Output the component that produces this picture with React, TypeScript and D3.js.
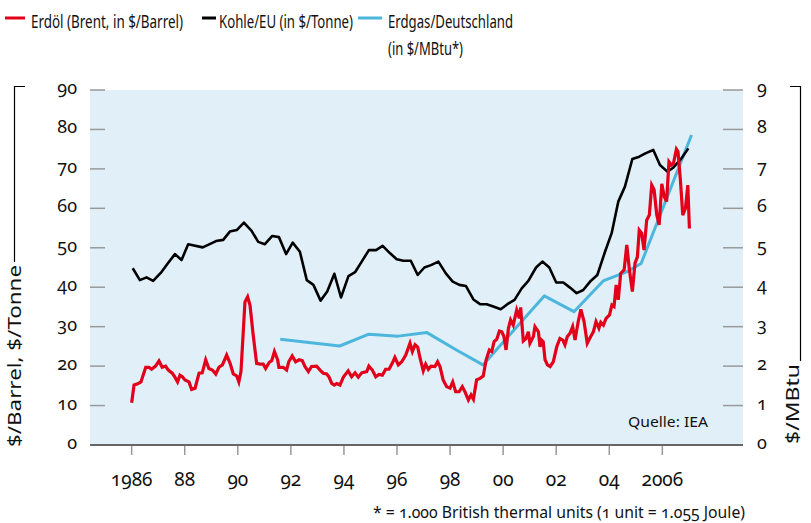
import React, { useEffect, useRef } from 'react';
import * as d3 from 'd3';

// Erdöl (Brent), $/Barrel: [Jahr, Wert]
const oilSeries: [number, number][] = [
  [1986.0, 10.7], [1986.09, 15.2], [1986.23, 15.5], [1986.35, 16.0], [1986.53, 19.7], [1986.65, 19.7],
  [1986.75, 19.2], [1986.9, 20.0], [1987.03, 21.3], [1987.15, 19.7], [1987.28, 20.0], [1987.38, 19.0],
  [1987.53, 18.2], [1987.63, 17.2], [1987.73, 16.0], [1987.82, 17.7], [1987.91, 17.3], [1988.01, 16.5],
  [1988.16, 16.0], [1988.26, 14.1], [1988.39, 14.4], [1988.54, 18.2], [1988.66, 18.3], [1988.79, 21.6],
  [1988.91, 19.4], [1989.04, 19.0], [1989.17, 18.0], [1989.29, 19.7], [1989.42, 20.3], [1989.58, 22.8],
  [1989.71, 20.7], [1989.83, 18.0], [1989.96, 17.5], [1990.04, 16.0], [1990.12, 18.6], [1990.27, 36.3],
  [1990.37, 37.6], [1990.46, 35.5], [1990.58, 27.9], [1990.71, 20.7], [1990.84, 20.5], [1990.96, 20.5],
  [1991.05, 19.4], [1991.18, 20.9], [1991.28, 21.4], [1991.38, 23.7], [1991.5, 21.6], [1991.55, 19.7],
  [1991.71, 19.7], [1991.84, 19.0], [1991.92, 21.1], [1992.05, 22.6], [1992.18, 21.1], [1992.31, 21.6],
  [1992.43, 21.4], [1992.53, 19.9], [1992.66, 18.6], [1992.78, 19.9], [1992.97, 20.0], [1993.1, 19.0],
  [1993.22, 18.2], [1993.35, 18.0], [1993.44, 17.2], [1993.54, 15.6], [1993.64, 15.2], [1993.73, 15.6],
  [1993.85, 15.2], [1993.98, 17.2], [1994.16, 18.8], [1994.29, 17.3], [1994.42, 18.3], [1994.54, 17.2],
  [1994.67, 18.3], [1994.86, 18.6], [1994.94, 20.0], [1995.07, 19.0], [1995.2, 17.3], [1995.32, 17.9],
  [1995.45, 17.7], [1995.57, 19.2], [1995.7, 19.2], [1995.82, 20.7], [1995.92, 22.2], [1996.05, 20.3],
  [1996.18, 21.1], [1996.33, 22.8], [1996.49, 25.8], [1996.58, 23.7], [1996.68, 25.4], [1996.78, 24.8],
  [1996.87, 22.0], [1996.99, 18.8], [1997.08, 20.5], [1997.18, 19.2], [1997.28, 20.0], [1997.43, 19.9],
  [1997.53, 21.1], [1997.62, 19.9], [1997.74, 16.5], [1997.87, 14.8], [1998.0, 14.4], [1998.1, 16.0],
  [1998.21, 13.5], [1998.34, 13.5], [1998.46, 14.8], [1998.56, 13.5], [1998.69, 11.4], [1998.79, 12.7],
  [1998.88, 11.6], [1999.0, 16.5], [1999.13, 16.9], [1999.25, 17.5], [1999.36, 21.6], [1999.48, 24.1],
  [1999.57, 23.7], [1999.66, 26.2], [1999.76, 26.8], [1999.86, 28.9], [1999.95, 28.7], [2000.03, 27.5],
  [2000.11, 24.1], [2000.2, 29.6], [2000.28, 31.7], [2000.38, 30.4], [2000.51, 34.2], [2000.61, 32.1],
  [2000.66, 34.9], [2000.76, 26.4], [2000.86, 27.0], [2000.95, 28.7], [2001.01, 25.8], [2001.14, 27.5],
  [2001.2, 30.0], [2001.33, 28.7], [2001.39, 24.9], [2001.45, 26.6], [2001.51, 26.2], [2001.58, 21.6],
  [2001.67, 20.3], [2001.77, 19.9], [2001.89, 21.1], [2002.02, 24.9], [2002.14, 27.0], [2002.25, 26.6],
  [2002.33, 25.4], [2002.42, 27.5], [2002.52, 28.3], [2002.62, 30.0], [2002.71, 26.6], [2002.83, 31.3],
  [2002.93, 34.4], [2003.05, 31.3], [2003.17, 25.8], [2003.3, 27.5], [2003.4, 28.7], [2003.5, 31.3],
  [2003.61, 29.6], [2003.68, 31.1], [2003.78, 30.4], [2003.88, 32.1], [2004.01, 33.0], [2004.1, 35.5],
  [2004.18, 35.1], [2004.26, 40.6], [2004.34, 36.8], [2004.43, 43.5], [2004.56, 44.4], [2004.66, 50.7],
  [2004.76, 44.4], [2004.87, 38.9], [2004.97, 46.1], [2005.06, 47.7], [2005.13, 54.5], [2005.22, 53.7],
  [2005.31, 49.4], [2005.41, 57.0], [2005.51, 58.3], [2005.6, 65.9], [2005.69, 64.7], [2005.79, 58.3],
  [2005.88, 55.8], [2005.98, 66.2], [2006.07, 63.0], [2006.16, 61.7], [2006.25, 71.8], [2006.34, 71.0],
  [2006.42, 71.4], [2006.53, 75.0], [2006.59, 74.4], [2006.68, 67.2], [2006.77, 58.3], [2006.87, 60.0],
  [2006.96, 65.9], [2007.02, 54.9],
];

// Kohle/EU, $/Tonne
const coalSeries: [number, number][] = [
  [1986.04, 44.8], [1986.31, 41.8], [1986.56, 42.5], [1986.81, 41.6], [1987.13, 43.9], [1987.38, 46.2],
  [1987.63, 48.4], [1987.88, 46.9], [1988.13, 50.9], [1988.68, 50.1], [1989.18, 51.7], [1989.45, 52.0],
  [1989.7, 54.1], [1989.96, 54.5], [1990.23, 56.4], [1990.52, 54.3], [1990.77, 51.5], [1991.02, 50.9],
  [1991.3, 53.0], [1991.55, 52.7], [1991.82, 48.4], [1992.07, 51.3], [1992.34, 49.0], [1992.6, 41.8],
  [1992.85, 40.6], [1993.12, 36.6], [1993.37, 38.9], [1993.64, 43.4], [1993.89, 37.4], [1994.17, 42.8],
  [1994.42, 43.8], [1994.67, 46.5], [1994.94, 49.4], [1995.21, 49.4], [1995.46, 50.5], [1995.74, 48.6],
  [1995.99, 47.1], [1996.24, 46.7], [1996.52, 46.7], [1996.78, 43.1], [1997.03, 45.0], [1997.28, 45.6],
  [1997.56, 46.5], [1997.84, 43.5], [1998.1, 41.4], [1998.35, 40.6], [1998.6, 40.3], [1998.88, 36.9],
  [1999.13, 35.7], [1999.38, 35.7], [1999.63, 35.1], [1999.91, 34.4], [2000.16, 35.7], [2000.43, 36.8],
  [2000.7, 39.7], [2000.95, 41.6], [2001.24, 45.0], [2001.48, 46.5], [2001.74, 45.0], [2002.0, 41.2],
  [2002.27, 41.2], [2002.52, 39.9], [2002.77, 38.5], [2003.02, 39.3], [2003.3, 41.6], [2003.55, 43.1],
  [2003.84, 49.0], [2004.09, 53.7], [2004.34, 61.7], [2004.59, 65.5], [2004.87, 72.5], [2005.13, 73.1],
  [2005.38, 74.0], [2005.66, 74.8], [2005.91, 71.0], [2006.19, 69.3], [2006.41, 70.3], [2006.69, 72.4],
  [2006.98, 75.2],
];

// Erdgas/Deutschland, $/MBtu (rechte Achse)
const gasSeries: [number, number][] = [
  [1991.6, 2.68], [1993.84, 2.51], [1994.94, 2.81], [1996.04, 2.76], [1997.13, 2.85], [1998.24, 2.41],
  [1999.24, 2.03], [2001.55, 3.78], [2002.67, 3.38], [2003.77, 4.16], [2004.65, 4.39], [2005.2, 4.6],
  [2007.1, 7.86],
];

const xTickYears = [1986, 1988, 1990, 1992, 1994, 1996, 1998, 2000, 2002, 2004, 2006];
const xTickLabels = ['1986', '88', '90', '92', '94', '96', '98', '00', '02', '04', '2006'];
const leftTicks = [0, 10, 20, 30, 40, 50, 60, 70, 80, 90];
const rightTicks = [0, 1, 2, 3, 4, 5, 6, 7, 8, 9];

const legendItems = [
  { label: ['Erdöl (Brent, in $/Barrel)'], widths: [152], color: '#e2001a', x1: 5, x2: 25, tx: 31 },
  { label: ['Kohle/EU (in $/Tonne)'], widths: [134], color: '#000000', x1: 202, x2: 216, tx: 219 },
  { label: ['Erdgas/Deutschland', '(in $/MBtu*)'], widths: [125, 75], color: '#4db6dd', x1: 358, x2: 382, tx: 388 },
];

const FONT = '"Noto Sans", "Open Sans", sans-serif';

const W = 811;
const H = 523;
const margin = { top: 90, right: 68, bottom: 78, left: 90 };

const EnergyPriceChart = () => {
  const ref = useRef<SVGSVGElement>(null);

  useEffect(() => {
    if (!ref.current) return;
    const svg = d3.select(ref.current);
    svg.selectAll('*').remove();

    const x = d3.scaleLinear().domain([1984.43, 2009.04]).range([margin.left, W - margin.right]);
    const yL = d3.scaleLinear().domain([0, 90]).range([H - margin.bottom, margin.top]);
    const yR = d3.scaleLinear().domain([0, 9]).range([H - margin.bottom, margin.top]);

    const plotBottom = H - margin.bottom;
    const plotRight = W - margin.right;

    const txt = (sel: any, size: number) =>
      sel.attr('font-family', FONT).attr('font-size', size)
        .style('font-variant-numeric', 'oldstyle-nums').attr('fill', '#111');

    // Hintergrund
    svg.append('rect')
      .attr('x', margin.left).attr('y', margin.top)
      .attr('width', plotRight - margin.left).attr('height', plotBottom - margin.top)
      .attr('fill', '#e1f0f8');

    // linke Ticks
    leftTicks.forEach(t => {
      svg.append('line')
        .attr('x1', margin.left).attr('x2', margin.left + 15)
        .attr('y1', yL(t)).attr('y2', yL(t))
        .attr('stroke', '#999').attr('stroke-width', 1.5);
      txt(svg.append('text'), 18)
        .attr('x', 77).attr('y', yL(t) + 4)
        .attr('text-anchor', 'end')
        .text(t);
    });

    rightTicks.forEach(t => {
      svg.append('line')
        .attr('x1', plotRight - 20).attr('x2', plotRight)
        .attr('y1', yR(t)).attr('y2', yR(t))
        .attr('stroke', '#999').attr('stroke-width', 1.5);
      txt(svg.append('text'), 18)
        .attr('x', 757).attr('y', yR(t) + 4)
        .text(t);
    });

    // x-Achse
    svg.append('line')
      .attr('x1', margin.left).attr('x2', plotRight)
      .attr('y1', plotBottom).attr('y2', plotBottom)
      .attr('stroke', '#666').attr('stroke-width', 2);
    xTickYears.forEach((yr, i) => {
      svg.append('line')
        .attr('x1', x(yr)).attr('x2', x(yr))
        .attr('y1', plotBottom + 1).attr('y2', plotBottom + 10)
        .attr('stroke', '#999').attr('stroke-width', 1.5);
      txt(svg.append('text'), 19)
        .attr('x', x(yr)).attr('y', 486)
        .attr('text-anchor', 'middle')
        .text(xTickLabels[i]);
    });

    // Linien
    const line = d3.line<[number, number]>().x(d => x(d[0])).y(d => yL(d[1]));
    const gasLine = d3.line<[number, number]>().x(d => x(d[0])).y(d => yR(d[1]));

    svg.append('path').datum(gasSeries)
      .attr('d', gasLine).attr('fill', 'none')
      .attr('stroke', '#4db6dd').attr('stroke-width', 3).attr('stroke-linejoin', 'round');
    svg.append('path').datum(coalSeries)
      .attr('d', line).attr('fill', 'none')
      .attr('stroke', '#000').attr('stroke-width', 2.6).attr('stroke-linejoin', 'round');
    svg.append('path').datum(oilSeries)
      .attr('d', line).attr('fill', 'none')
      .attr('stroke', '#e2001a').attr('stroke-width', 3.2).attr('stroke-linejoin', 'miter');

    // Quelle
    txt(svg.append('text'), 15)
      .attr('x', 628).attr('y', 427)
      .attr('textLength', 80).attr('lengthAdjust', 'spacingAndGlyphs')
      .text('Quelle: IEA');

    // Achsentitel links
    svg.append('path')
      .attr('d', 'M25,86.5H14.5V262')
      .attr('fill', 'none').attr('stroke', '#000').attr('stroke-width', 1.2);
    txt(svg.append('text'), 18)
      .attr('transform', 'translate(21,447) rotate(-90)')
      .attr('textLength', 182).attr('lengthAdjust', 'spacingAndGlyphs')
      .text('$/Barrel,  $/Tonne');

    // Achsentitel rechts
    svg.append('path')
      .attr('d', 'M790,86.5H800.5V361')
      .attr('fill', 'none').attr('stroke', '#000').attr('stroke-width', 1.2);
    txt(svg.append('text'), 18)
      .attr('transform', 'translate(799,444) rotate(-90)')
      .attr('textLength', 80).attr('lengthAdjust', 'spacingAndGlyphs')
      .text('$/MBtu');

    // Legende
    legendItems.forEach(item => {
      svg.append('line')
        .attr('x1', item.x1).attr('x2', item.x2)
        .attr('y1', 18).attr('y2', 18)
        .attr('stroke', item.color).attr('stroke-width', 3);
      item.label.forEach((l, j) => {
        txt(svg.append('text'), 18)
          .attr('x', item.tx).attr('y', 28 + j * 27)
          .attr('textLength', item.widths[j]).attr('lengthAdjust', 'spacingAndGlyphs')
          .text(l);
      });
    });

    // Fußnote
    txt(svg.append('text'), 16)
      .attr('x', 373).attr('y', 518)
      .attr('textLength', 372).attr('lengthAdjust', 'spacingAndGlyphs')
      .text('* = 1.000 British thermal units (1 unit = 1.055 Joule)');
  }, []);

  return (
    <svg
      ref={ref}
      width={W}
      height={H}
      style={{ position: 'absolute', left: 0, top: 0, background: '#fff' }}
    />
  );
};

export default function App() {
  return <EnergyPriceChart />;
}
